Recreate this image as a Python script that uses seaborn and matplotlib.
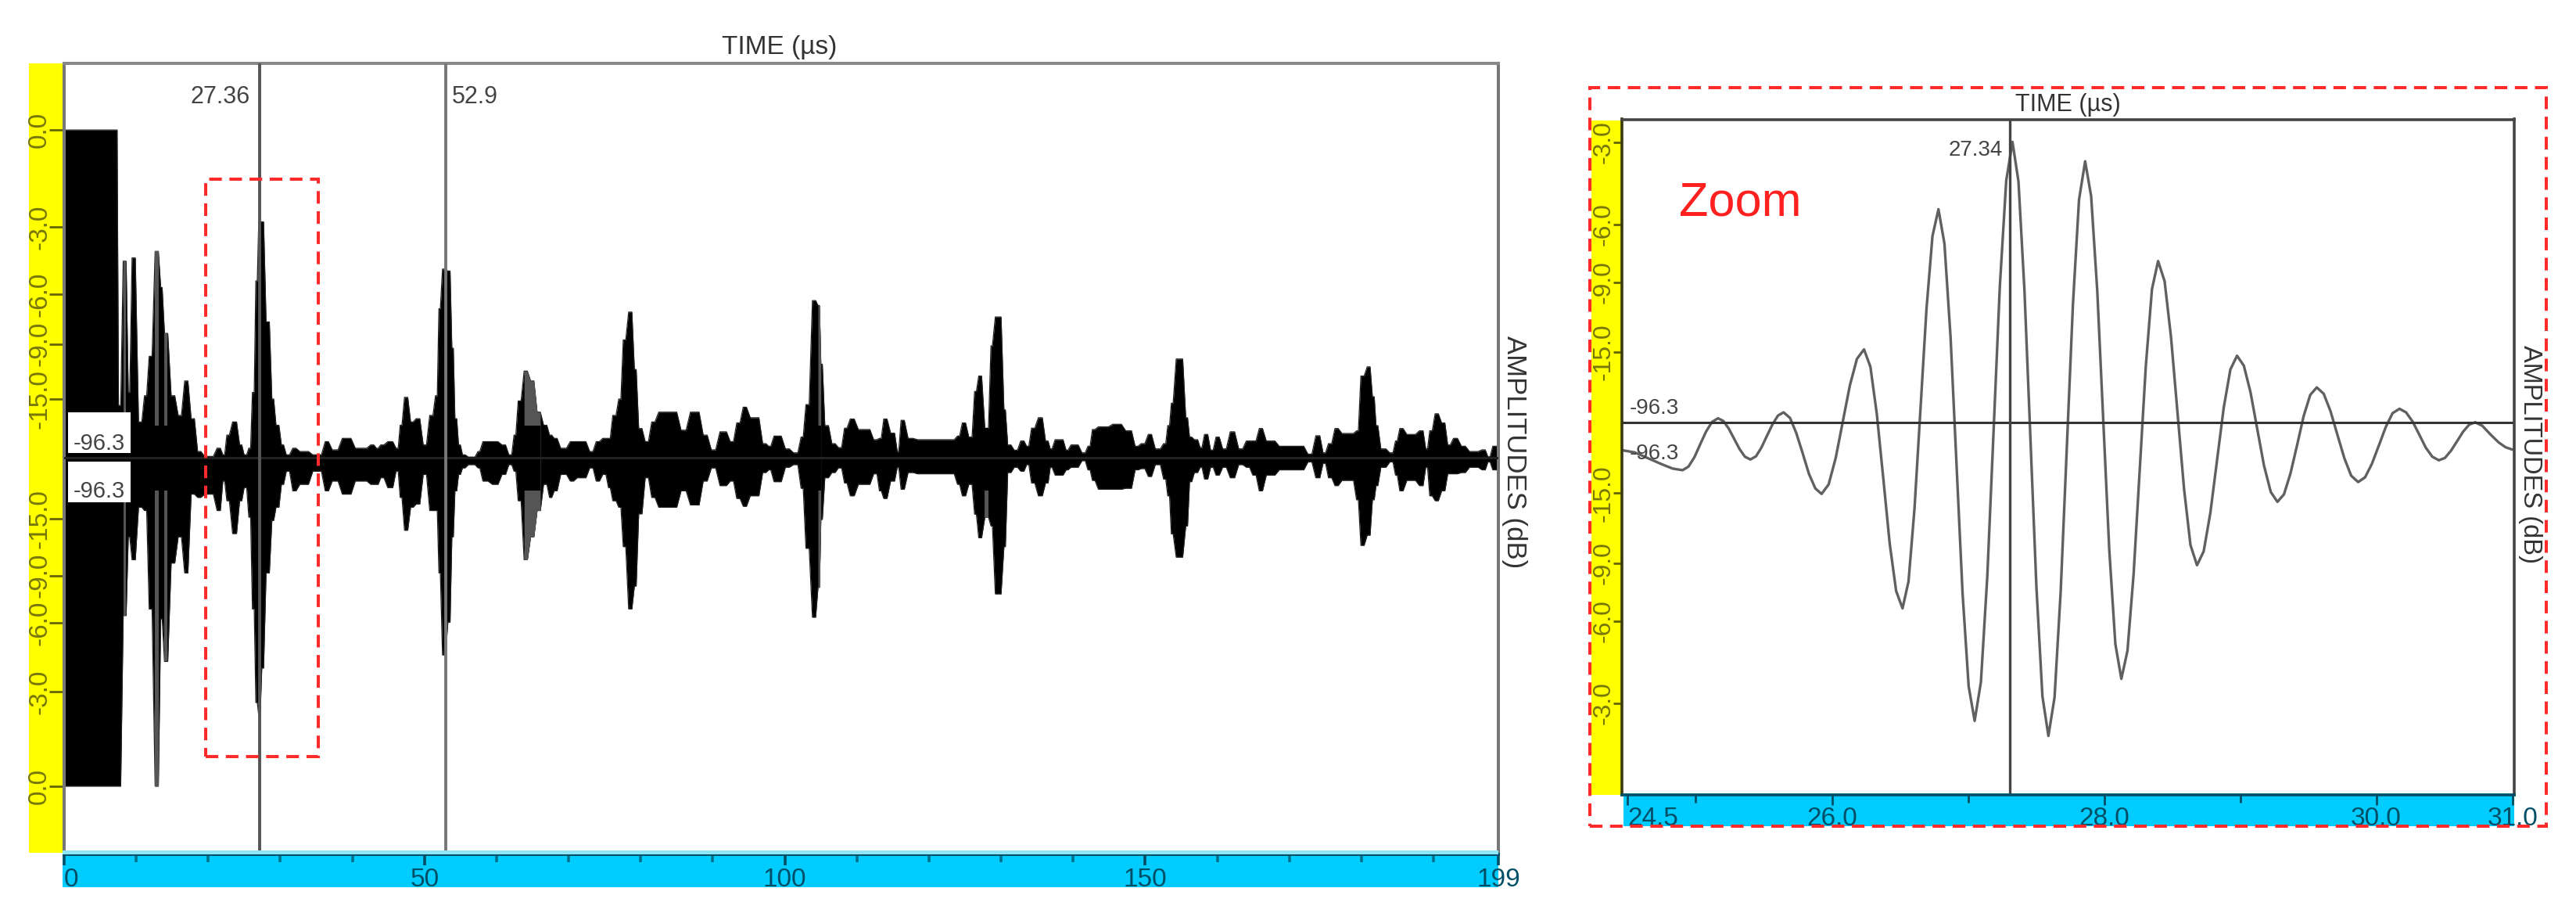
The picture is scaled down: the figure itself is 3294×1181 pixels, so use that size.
import numpy as np
import pandas as pd
import matplotlib
matplotlib.use("Agg")
import matplotlib.pyplot as plt
from matplotlib.patches import Rectangle
import seaborn as sns

sns.set_style("white")
plt.rcParams["font.family"] = ["Liberation Sans", "DejaVu Sans"]

# ---------- full trace: envelope per time bin (us, linear amplitude, 0 dB = 1) ----------
env_t = [0, 7.4, 8.0, 8.8, 9.2, 10.1, 11.0, 11.6, 12.4, 13.3, 13.7, 14.6, 15.6, 16.5, 17.4, 18.3, 19.2, 21.0, 21.9, 22.4,
         23.1, 24.2, 24.8, 25.5, 26.0, 26.5, 26.9, 27.3, 27.8, 28.7, 29.2, 30.0, 30.6, 31.5, 32.4, 34.2, 36.0, 36.9, 38.3, 40.1, 42.3,
         43.2, 43.7, 44.6, 45.9, 46.5, 47.0, 47.9, 48.6, 49.6, 50.5, 51.4, 51.9, 52.3, 53.1, 53.7, 54.1, 54.6, 55.1, 55.8, 57.3,
         57.8, 59.1, 60.5, 61.5, 62.3, 62.8, 63.6, 64.5, 65.4, 66.3, 67.2, 67.8, 68.6, 70.0, 70.9, 72.7, 73.6, 74.5, 75.4, 75.9,
         76.8, 77.4, 78.1, 79.0, 79.5, 80.4, 81.3, 82.2, 85.3,
         86.6, 88.4, 89.5, 90.7, 92.2, 93.1, 94.0, 94.9, 96.7, 97.6, 98.2, 99.8, 100.9, 102.1, 102.7, 103.6, 104.5, 104.9, 105.3,
         106.3, 107.2, 108.1, 108.8, 109.9, 112.1, 113.0, 113.5, 114.4, 115.5, 115.9, 116.8, 118.1, 123.8, 124.4, 125.3, 126.2,
         126.7, 127.5, 128.5, 128.9,
         130.3, 130.7, 131.6, 132.5, 133.4, 134.0, 134.9, 136.0, 136.7, 137.2, 138.9, 139.4, 141.0, 141.9, 142.5, 143.2, 145.2,
         147.0, 148.4, 149.2, 150.2, 151.1, 152.4, 153.0, 153.5, 154.0, 155.5, 156.0, 156.6, 157.5, 158.0, 158.9, 159.6, 160.5,
         161.5, 162.7, 163.8,
         164.7, 165.6, 166.5, 168.3, 172.3, 173.4, 174.5, 175.2, 176.1, 177.0, 179.2, 179.7, 180.6, 181.4, 181.9, 182.4, 183.7,
         184.6, 185.1, 186.0, 187.8, 188.8, 189.3, 190.0, 190.9, 191.8, 192.5, 193.6, 194.7, 196.5, 197.4, 198.0, 198.9]
env_hi = [1, .16, .6, .2, .61, .11, .19, .31, .63, .52, .38, .19, .13, .235, .12, .02, .005, .03, .01, .07,
          .11, .04, .01, .03, .2, .54, .72, .72, .415, .18, .10, .04, .01, .03, .02, .01, .05, .025, .06, .03, .04,
          .03, .04, .05, .03, .10, .185, .11, .12, .04, .13, .19, .455, .576, .57, .335, .12, .04, .01, .003, .02,
          .05, .05, .04, .01, .07, .174, .265, .235, .14, .10, .07, .06, .03, .05, .05, .02, .05, .06, .06, .13,
          .18, .36, .445, .27, .09, .05, .11, .14, .085,
          .14, .07, .025, .08, .05, .107, .155, .123, .044, .036, .067, .028, .016, .064, .163, .48, .465, .286, .099,
          .044, .032, .091, .119, .087, .056, .06, .119, .076, .02, .115, .06, .056, .067, .107, .064, .203,
          .25, .091, .342, .43,
          .147, .04, .024, .052, .036, .091, .123, .052, .028, .056, .024, .04, .016, .036, .087, .095, .103,
          .083, .036, .044, .072, .028, .044, .099, .167, .302, .123, .064, .056, .032, .072, .024, .064, .028,
          .08, .028, .052,
          .052, .09, .052, .036, .012, .068, .016, .044, .09, .075, .083, .25, .278, .187, .099, .028, .016,
          .052, .09, .072, .083, .028, .083, .135, .107, .04, .06, .036, .02, .025, .004, .036, .036]
env_lo = [-1, -1, -.48, -.24, -.31, -.15, -.16, -.46, -1.0, -.49, -.62, -.32, -.24, -.35, -.11, -.12, -.11, -.16, -.07, -.13,
          -.23, -.13, -.09, -.18, -.46, -.745, -.785, -.64, -.35, -.19, -.15, -.08, -.04, -.10, -.08, -.04, -.10, -.07, -.11, -.07, -.08,
          -.08, -.06, -.09, -.04, -.12, -.22, -.15, -.14, -.05, -.16, -.16, -.35, -.60, -.50, -.24, -.10, -.05, -.03, -.02, -.03,
          -.07, -.08, -.05, -.02, -.04, -.13, -.31, -.24, -.16, -.08, -.12, -.10, -.05, -.07, -.06, -.03, -.07, -.05, -.09, -.13,
          -.15, -.27, -.46, -.39, -.17, -.06, -.12, -.15, -.10,
          -.143, -.07, -.03, -.084, -.07, -.123, -.147, -.115, -.044, -.036, -.072, -.028, -.02, -.092, -.275, -.485, -.394, -.187, -.06,
          -.044, -.03, -.076, -.115, -.08, -.048, -.10, -.123, -.07, -.028, -.095, -.044, -.048, -.08, -.115, -.08, -.171,
          -.243, -.18, -.207, -.414,
          -.27, -.044, -.028, -.04, -.02, -.076, -.115, -.076, -.028, -.052, -.036, -.028, -.008, -.036, -.068, -.095, -.095,
          -.092, -.036, -.032, -.056, -.02, -.064, -.115, -.231, -.302, -.207, -.072, -.044, -.028, -.064, -.028, -.052, -.028,
          -.06, -.02, -.028,
          -.052, -.10, -.052, -.036, -.012, -.06, -.016, -.06, -.084, -.068, -.127, -.266, -.235, -.127, -.084, -.028, -.012,
          -.052, -.10, -.068, -.084, -.028, -.115, -.13, -.10, -.048, -.048, -.044, -.028, -.036, -.012, -.036, -.036]
# stretches of the trace that read grey rather than black in the picture
grey_start = [8.0, 12.6, 13.7, 63.6, 104.5, 127.5]
grey_end = [8.8, 13.3, 14.6, 66.3, 105.0, 128.5]

# ---------- zoomed trace ----------
zoom_t = [24.465, 24.55, 24.65, 24.75, 24.83, 24.903, 24.946, 24.990, 25.033, 25.076, 25.120, 25.163,
          25.203, 25.242, 25.282, 25.322, 25.361, 25.401, 25.442, 25.482, 25.523, 25.564, 25.604, 25.645,
          25.692, 25.738, 25.785, 25.831, 25.878, 25.924, 25.976, 26.028, 26.080, 26.132, 26.184, 26.236,
          26.283, 26.330, 26.378, 26.425, 26.472, 26.519, 26.563, 26.607, 26.651, 26.695, 26.739, 26.783,
          26.827, 26.872, 26.916, 26.960, 27.005, 27.049, 27.095, 27.142, 27.188, 27.234, 27.281, 27.327,
          27.371, 27.415, 27.459, 27.503, 27.547, 27.591, 27.636, 27.681, 27.726, 27.771, 27.816, 27.861,
          27.905, 27.950, 27.994, 28.038, 28.083, 28.127, 28.172, 28.217, 28.262, 28.307, 28.352, 28.397,
          28.445, 28.492, 28.540, 28.588, 28.635, 28.683, 28.732, 28.781, 28.830, 28.879, 28.928, 28.977,
          29.027, 29.076, 29.126, 29.175, 29.225, 29.274, 29.322, 29.370, 29.419, 29.467, 29.515, 29.563,
          29.614, 29.664, 29.715, 29.766, 29.816, 29.867, 29.918, 29.968, 30.019, 30.070, 30.120, 30.171,
          30.219, 30.267, 30.316, 30.364, 30.412, 30.46, 30.505, 30.549, 30.594, 30.638, 30.683, 30.727,
          30.78, 30.84, 30.90, 30.95, 31.0]
zoom_a = [-.07, -.075, -.09, -.105, -.116, -.12, -.111, -.087, -.054, -.022, .002, .011,
          .004, -.015, -.041, -.067, -.086, -.093, -.085, -.063, -.033, -.004, .018, .026,
          .012, -.026, -.077, -.129, -.166, -.18, -.156, -.089, .003, .094, .161, .185,
          .141, .022, -.142, -.306, -.425, -.469, -.401, -.217, .035, .287, .471, .539,
          .452, .216, -.107, -.43, -.666, -.753, -.655, -.388, -.022, .344, .611, .709,
          .609, .334, -.041, -.416, -.691, -.791, -.694, -.428, -.066, .297, .563, .66,
          .572, .333, .007, -.32, -.559, -.647, -.576, -.383, -.12, .144, .337, .408,
          .357, .216, .024, -.168, -.309, -.36, -.325, -.228, -.096, .037, .134, .169,
          .144, .077, -.016, -.108, -.175, -.2, -.181, -.128, -.056, .017, .07, .089,
          .073, .029, -.031, -.09, -.134, -.15, -.138, -.104, -.058, -.011, .024, .035,
          .026, .003, -.03, -.063, -.086, -.095, -.089, -.071, -.047, -.023, -.005, .001,
          -.008, -.03, -.05, -.062, -.068]

# ---------- axis labels and cursors ----------
db_labels = ["0.0", "-3.0", "-6.0", "-9.0", "-15.0", "-15.0", "-9.0", "-6.0", "-3.0", "0.0"]
db_ticks = [1.0, .704, .499, .348, .179, -.185, -.358, -.503, -.712, -1.0]
zoom_db_labels = ["-3.0", "-6.0", "-9.0", "-15.0", "-15.0", "-9.0", "-6.0", "-3.0"]
zoom_db_ticks = [.708, .501, .355, .178, -.178, -.355, -.501, -.708]
main_xticks = [0, 50, 100, 150, 199]
main_xminor = [10, 20, 30, 40, 60, 70, 80, 90, 110, 120, 130, 140, 160, 170, 180, 190]
zoom_xticks = [24.5, 26.0, 28.0, 30.0, 31.0]
zoom_xlabels = ["24.5", "26.0", "28.0", "30.0", "31.0"]
zoom_xminor = [25, 27, 29]
main_cursors = [27.1, 52.9]
zoom_cursor = 27.31

W, H = 3294, 1181
fig = plt.figure(figsize=(W / 100, H / 100), dpi=100, facecolor="white")


def axes_px(x0, x1, y0, y1):
    return fig.add_axes([x0 / W, 1 - y1 / H, (x1 - x0) / W, (y1 - y0) / H], facecolor="white")


def band(x0, x1, y0, y1, color, z=-1, **kw):
    fig.add_artist(Rectangle((x0 / W, 1 - y1 / H), (x1 - x0) / W, (y1 - y0) / H, transform=fig.transFigure,
                             facecolor=color, edgecolor="none", zorder=z, **kw))


def dashed(x0, x1, y0, y1):
    fig.add_artist(Rectangle((x0 / W, 1 - y1 / H), (x1 - x0) / W, (y1 - y0) / H, transform=fig.transFigure,
                             facecolor="none", edgecolor="#ff2a2a", linewidth=2.9, linestyle=(0, (4, 2.4)), zorder=6))


def ftext(x, y, s, **kw):
    fig.text(x / W, 1 - y / H, s, **kw)


BLUE = "#00CCFF"
YEL = "#FFFF00"
OLIVE = "#77770a"
TEAL = "#004f66"

# colour bands
band(37, 82, 81, 1090, YEL)
band(80, 1916, 1087, 1134, BLUE)
band(80, 1916, 1087, 1092, "#8fe6f6", z=5)
band(2035, 2074, 154, 1016, YEL)
band(2076, 3215, 1014, 1056, BLUE)

# ---------- main panel ----------
ax = axes_px(82, 1916, 81, 1092)
ax.patch.set_alpha(0)
# each bin keeps its level, with its flanks eased over a few pixels
edges = np.array(env_t + [199.0])
ease = np.minimum(0.3, 0.25 * np.diff(edges))
ease[0] = 0.05
t_sm = np.column_stack([edges[:-1] + ease, edges[1:] - ease]).ravel()
hi_sm = np.repeat(env_hi, 2)
lo_sm = np.repeat(env_lo, 2)
env = pd.DataFrame({"t": t_sm, "hi": hi_sm, "lo": lo_sm})
ax.fill_between(env["t"], env["lo"], env["hi"], color="black", lw=0, zorder=2)
for g0, g1 in zip(grey_start, grey_end):
    m = (env["t"] >= g0) & (env["t"] <= g1)
    ax.fill_between(env["t"][m], env["lo"][m], env["hi"][m], color="#555555", lw=0, zorder=2.1)
    ax.fill_between(env["t"][m], np.maximum(env["lo"][m], -.1), np.minimum(env["hi"][m], .1),
                    color="black", lw=0, zorder=2.2)
sns.lineplot(data=env, x="t", y="hi", ax=ax, color="#222222", lw=0.9, sort=False, estimator=None, errorbar=None, zorder=2)
sns.lineplot(data=env, x="t", y="lo", ax=ax, color="#222222", lw=0.9, sort=False, estimator=None, errorbar=None, zorder=2)
ax.axhline(0, color="#222222", lw=2.2, zorder=3)
for c, col in zip(main_cursors, ["#555555", "#777777"]):
    ax.axvline(c, color=col, lw=2.8, zorder=4)
ax.set_xlim(0, 199)
ax.set_ylim(-1.208, 1.203)
ax.set_xlabel("")
ax.set_ylabel("")
ax.set_xticks(main_xticks)
ax.set_xticklabels([str(v) for v in main_xticks], fontsize=24, color=TEAL)
ax.set_xticks(main_xminor, minor=True)
ax.xaxis.get_ticklabels()[0].set_ha("left")
ax.tick_params(axis="x", which="major", bottom=True, length=10, width=2.6, color=TEAL, pad=2)
ax.tick_params(axis="x", which="minor", bottom=True, length=7.5, width=2.6, color="#00728f")
ax.set_yticks(db_ticks)
ax.set_yticklabels(db_labels, rotation=90, va="center", ha="center", fontsize=24, color=OLIVE)
ax.tick_params(axis="y", left=True, length=14, width=2, color="#66660a", pad=-13)
for lab in ax.get_yticklabels():
    lab.set_x(-30 / 1834)
for s, c in dict(top="#888888", right="#777777", left="#777777", bottom=TEAL).items():
    ax.spines[s].set_visible(True)
    ax.spines[s].set_color(c)
    ax.spines[s].set_linewidth(2.9)
dashed(263, 407, 229, 967)
band(87, 167, 527, 579, "white", z=4)
band(87, 167, 590, 642, "white", z=4)
ftext(127, 567, "-96.3", fontsize=21, color="#444444", ha="center", va="center", zorder=7)
ftext(127, 628, "-96.3", fontsize=21, color="#444444", ha="center", va="center", zorder=7)
ftext(320, 124, "27.36", fontsize=22, color="#444444", ha="right", va="center")
ftext(578, 124, "52.9", fontsize=22, color="#444444", ha="left", va="center")
ftext(997, 61, "TIME (\u00b5s)", fontsize=24, color="#333333", ha="center", va="center")
ftext(1936, 578, "AMPLITUDES (dB)", fontsize=25, color="#333333", rotation=-90, ha="center", va="center")

# ---------- zoom panel ----------
az = axes_px(2074, 3215, 152.5, 1016)
az.patch.set_alpha(0)
zoom_df = pd.DataFrame({"t": zoom_t, "a": zoom_a})
sns.lineplot(data=zoom_df, x="t", y="a", ax=az, color="#606060", lw=2.4, sort=False, estimator=None, errorbar=None,
             solid_joinstyle="round")
az.axhline(0, color="#333333", lw=2.2)
az.axvline(zoom_cursor, color="#444444", lw=2.4)
az.set_xlim(24.457, 31.014)
az.set_ylim(-.94, .766)
az.set_xlabel("")
az.set_ylabel("")
az.set_xticks(zoom_xticks)
az.set_xticklabels(zoom_xlabels, fontsize=24, color=TEAL)
az.set_xticks(zoom_xminor, minor=True)
az.xaxis.get_ticklabels()[0].set_ha("left")
az.tick_params(axis="x", which="major", bottom=True, length=9, width=2, color=TEAL, pad=2)
az.tick_params(axis="x", which="minor", bottom=True, length=7, width=2, color=TEAL)
az.set_yticks(zoom_db_ticks)
az.set_yticklabels(zoom_db_labels, rotation=90, va="center", ha="center", fontsize=23, color=OLIVE)
az.tick_params(axis="y", left=True, length=8, width=2, color="#66660a", pad=-10)
for lab in az.get_yticklabels():
    lab.set_x(-26 / 1141)
for s, c in dict(top="#444444", right="#444444", left="#3a3a10", bottom=TEAL).items():
    az.spines[s].set_visible(True)
    az.spines[s].set_color(c)
    az.spines[s].set_linewidth(2.6)
dashed(2033, 3256, 112, 1056)
ftext(2561, 192, "27.34", fontsize=20, color="#444444", ha="right", va="center")
ftext(2084, 522, "-96.3", fontsize=20, color="#444444", ha="left", va="center")
ftext(2084, 580, "-96.3", fontsize=20, color="#444444", ha="left", va="center")
ftext(2147, 260, "Zoom", fontsize=44, color="#ff2020", ha="left", va="center")
ftext(2644, 134, "TIME (\u00b5s)", fontsize=22, color="#333333", ha="center", va="center")
ftext(3236, 581, "AMPLITUDES (dB)", fontsize=23.5, color="#333333", rotation=-90, ha="center", va="center")

fig.savefig("out.png", dpi=100, facecolor="white")
